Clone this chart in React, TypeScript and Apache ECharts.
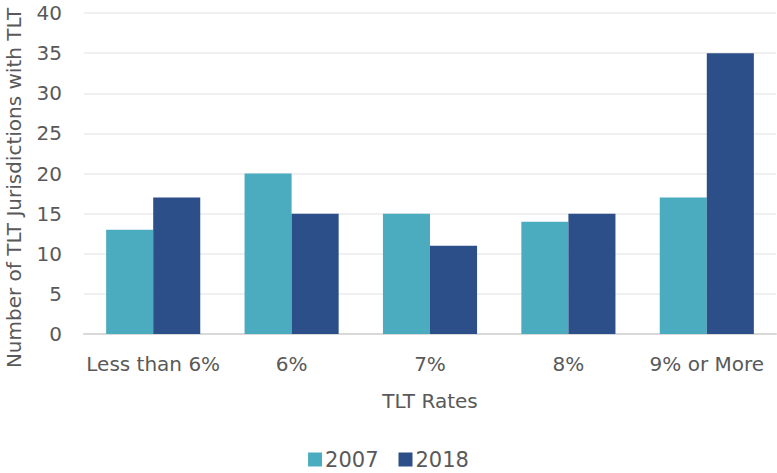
import React, { useEffect, useRef } from "react";
import * as echarts from "echarts";

const categories = ["Less than 6%", "6%", "7%", "8%", "9% or More"];
const series2007 = [13, 20, 15, 14, 17];
const series2018 = [17, 15, 11, 15, 35];
const seriesNames = ["2007", "2018"];
const yTitle = "Number of TLT Jurisdictions with TLT";
const xTitle = "TLT Rates";

export default function App() {
  const ref = useRef<HTMLDivElement>(null);
  useEffect(() => {
    if (!ref.current) return;
    const chart = echarts.init(ref.current, undefined, { renderer: "svg" });
    const font = "DejaVu Sans";
    const textColor = "#595959";
    chart.setOption({
      animation: false,
      textStyle: { fontFamily: font },
      grid: { left: 84, right: 1, top: 13, bottom: 139, outerBoundsMode: "none" },
      graphic: [
        {
          type: "text",
          x: 14,
          y: 188,
          rotation: Math.PI / 2,
          style: {
            text: yTitle,
            fontFamily: font,
            fontSize: 20,
            fill: textColor,
            align: "center",
            verticalAlign: "middle",
          },
        },
      ],
      legend: {
        data: seriesNames,
        bottom: -2,
        left: "center",
        itemWidth: 14,
        itemHeight: 14,
        itemGap: 20,
        icon: "rect",
        textStyle: { fontFamily: font, fontSize: 21, color: textColor, padding: [0, 0, 0, -2] },
      },
      xAxis: {
        type: "category",
        data: categories,
        name: xTitle,
        nameLocation: "middle",
        nameGap: 57,
        nameTextStyle: { fontFamily: font, fontSize: 20, color: textColor },
        axisTick: { show: false },
        axisLine: { lineStyle: { color: "#d9d9d9", width: 2 } },
        axisLabel: { fontFamily: font, fontSize: 20, color: textColor, margin: 20, interval: 0 },
      },
      yAxis: {
        type: "value",
        min: 0,
        max: 40,
        interval: 5,
        axisLabel: { fontFamily: font, fontSize: 20, color: textColor, margin: 22 },
        splitLine: { lineStyle: { color: "#ebebeb", width: 1.5 } },
        axisLine: { show: false },
        axisTick: { show: false },
      },
      series: [
        {
          name: seriesNames[0],
          type: "bar",
          data: series2007,
          itemStyle: { color: "#4BACBF" },
          barGap: "0%",
          barCategoryGap: "32%",
        },
        {
          name: seriesNames[1],
          type: "bar",
          data: series2018,
          itemStyle: { color: "#2C4F89" },
          barGap: "0%",
          barCategoryGap: "32%",
        },
      ],
    });
    return () => chart.dispose();
  }, []);
  return (
    <div
      ref={ref}
      style={{ position: "fixed", left: 0, top: 0, width: 777, height: 473, background: "#fff" }}
    />
  );
}
